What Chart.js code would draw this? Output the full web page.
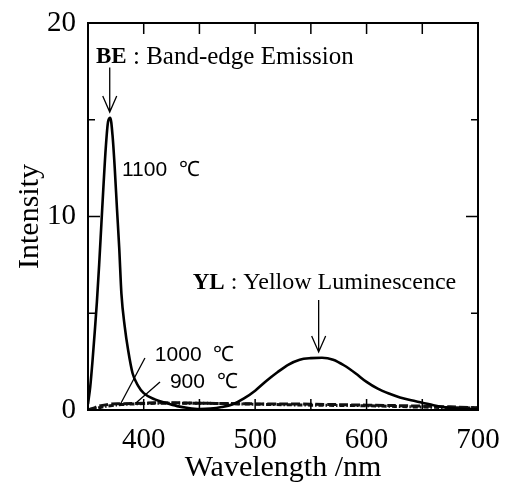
<!DOCTYPE html>
<html>
<head>
<meta charset="utf-8">
<script src="https://cdn.jsdelivr.net/npm/chart.js@4.4.0/dist/chart.umd.min.js"></script>
<style>
	html, body { margin: 0; padding: 0; background: #fff; }
</style>
</head>
<body>
<canvas id="chart" width="506" height="486"></canvas>
<script>
// wavelength (nm) / intensity
var wl1100 = [350, 352, 354, 356, 358, 360, 362, 364, 366, 368, 370, 372, 374, 376, 378, 380, 383, 386, 390, 395,
	400, 410, 420, 430, 440, 450, 460, 470, 480, 490, 500, 510, 520, 530, 540, 550, 560, 570, 580, 590,
	600, 610, 620, 630, 640, 650, 660, 670, 680, 690, 700];
var int1100 = [0.3, 1.2, 2.5, 4.0, 5.6, 7.5, 9.6, 11.7, 13.6, 14.9, 15.1, 14.2, 12.5, 10.4, 8.4, 6.0, 4.3, 3.1, 1.9, 1.25,
	0.87, 0.55, 0.36, 0.2, 0.1, 0.05, 0.07, 0.15, 0.3, 0.6, 1.0, 1.5, 1.95, 2.35, 2.6, 2.68, 2.7, 2.6, 2.3, 1.9,
	1.45, 1.1, 0.85, 0.65, 0.5, 0.38, 0.25, 0.14, 0.08, 0.05, 0.04];

var wlLow = [350, 355, 360, 370, 380, 400, 420, 450, 500, 550, 600, 650, 700];
var int1000 = [0.0, 0.1, 0.2, 0.3, 0.32, 0.35, 0.38, 0.35, 0.32, 0.3, 0.25, 0.2, 0.12];
var int900 = [0.0, 0.05, 0.12, 0.22, 0.28, 0.33, 0.35, 0.35, 0.3, 0.25, 0.22, 0.15, 0.1];

var xMin = 350, xMax = 700;
var yMin = 0, yMax = 20;
var xTicks = [400, 500, 600, 700];
var yTicks = [0, 10, 20];

function pairs(xs, ys) {
	var out = [];
	for (var i = 0; i < xs.length; i++) out.push({ x: xs[i], y: ys[i] });
	return out;
}

// text labels / arrows in data units
var notes = [
	{ type: 'text', x: 357.2, y: 18.24, parts: [['BE', 'bold 23px "Liberation Serif"'], [' : Band-edge Emission', '25px "Liberation Serif"']] },
	{ type: 'text', x: 444, y: 6.56, parts: [['YL', 'bold 23px "Liberation Serif"'], [' : Yellow Luminescence', '24px "Liberation Serif"']] },
	{ type: 'text', x: 380.5, y: 12.4, parts: [['1100  \u2103', '21px "Liberation Sans"']] },
	{ type: 'text', x: 410, y: 2.84, parts: [['1000  \u2103', '21px "Liberation Sans"']] },
	{ type: 'text', x: 423.5, y: 1.45, parts: [['900  \u2103', '21px "Liberation Sans"']] },
	{ type: 'arrow', x: 369.5, y1: 17.7, y2: 15.4 },
	{ type: 'arrow', x: 557, y1: 5.68, y2: 3.0 },
	{ type: 'line', x1: 401.1, y1: 2.69, x2: 378.7, y2: 0.26 },
	{ type: 'line', x1: 414.6, y1: 1.45, x2: 393, y2: 0.36 }
];

function noPad(s) {
	s.paddingLeft = 0; s.paddingRight = 0; s.paddingTop = 0; s.paddingBottom = 0;
}

var frame = {
	id: 'frame',
	afterDraw: function(chart) {
		var ctx = chart.ctx;
		var a = chart.chartArea;
		var sx = chart.scales.x, sy = chart.scales.y;
		ctx.save();
		ctx.strokeStyle = '#000';
		ctx.fillStyle = '#000';
		ctx.lineWidth = 2;
		ctx.strokeRect(a.left, a.top, a.right - a.left, a.bottom - a.top);

		// inward ticks on all four sides
		ctx.lineWidth = 1.5;
		ctx.beginPath();
		for (var v = xMin + 50; v < xMax; v += 50) {
			var px = sx.getPixelForValue(v);
			ctx.moveTo(px, a.bottom); ctx.lineTo(px, a.bottom - 11);
			ctx.moveTo(px, a.top); ctx.lineTo(px, a.top + 11);
		}
		for (var w = yMin + 5; w < yMax; w += 5) {
			var py = sy.getPixelForValue(w);
			var len = (w % 10 === 0) ? 12 : 7;
			ctx.moveTo(a.left, py); ctx.lineTo(a.left + len, py);
			ctx.moveTo(a.right, py); ctx.lineTo(a.right - len, py);
		}
		ctx.stroke();

		ctx.lineWidth = 1.3;
		ctx.textBaseline = 'middle';
		notes.forEach(function(n) {
			if (n.type === 'text') {
				var tx = sx.getPixelForValue(n.x);
				var ty = sy.getPixelForValue(n.y);
				n.parts.forEach(function(p) {
					ctx.font = p[1];
					ctx.fillText(p[0], tx, ty);
					tx += ctx.measureText(p[0]).width;
				});
			} else if (n.type === 'arrow') {
				var ax = sx.getPixelForValue(n.x);
				var ay1 = sy.getPixelForValue(n.y1);
				var ay2 = sy.getPixelForValue(n.y2);
				ctx.beginPath();
				ctx.moveTo(ax, ay1); ctx.lineTo(ax, ay2);
				ctx.moveTo(ax - 7, ay2 - 16); ctx.lineTo(ax, ay2); ctx.lineTo(ax + 7, ay2 - 16);
				ctx.stroke();
			} else {
				ctx.beginPath();
				ctx.moveTo(sx.getPixelForValue(n.x1), sy.getPixelForValue(n.y1));
				ctx.lineTo(sx.getPixelForValue(n.x2), sy.getPixelForValue(n.y2));
				ctx.stroke();
			}
		});
		ctx.restore();
	}
};

var ctx = document.getElementById('chart');
var myChart = new Chart(ctx, {
	type: 'line',
	data: {
		datasets: [
			{ label: '1100 \u2103', data: pairs(wl1100, int1100), borderColor: '#000', borderWidth: 2.6, pointRadius: 0, tension: 0.4, cubicInterpolationMode: 'monotone' },
			{ label: '1000 \u2103', data: pairs(wlLow, int1000), borderColor: '#111', borderWidth: 3, borderDash: [9, 3], pointRadius: 0, tension: 0.4 },
			{ label: '900 \u2103', data: pairs(wlLow, int900), borderColor: '#111', borderWidth: 3, borderDash: [5, 2, 1.5, 2], pointRadius: 0, tension: 0.4 }
		]
	},
	options: {
		responsive: false,
		animation: false,
		layout: { padding: { left: 0, right: 28, top: 23, bottom: 0 } },
		plugins: { legend: { display: false }, tooltip: { enabled: false } },
		scales: {
			x: {
				type: 'linear', min: xMin, max: xMax,
				afterBuildTicks: function(s) { s.ticks = xTicks.map(function(v) { return { value: v }; }); },
				afterFit: function(s) { s.height = 76; noPad(s); },
				grid: { display: false, drawTicks: false },
				border: { display: false },
				ticks: { color: '#000', font: { family: 'Liberation Serif', size: 29 }, padding: 13, maxRotation: 0 },
				title: { display: true, text: 'Wavelength /nm', color: '#000', font: { family: 'Liberation Serif', size: 30 }, padding: 0 }
			},
			y: {
				min: yMin, max: yMax,
				afterBuildTicks: function(s) { s.ticks = yTicks.map(function(v) { return { value: v }; }); },
				afterFit: function(s) { s.width = 88; noPad(s); },
				grid: { display: false, drawTicks: false },
				border: { display: false },
				ticks: { color: '#000', font: { family: 'Liberation Serif', size: 29 }, padding: 12 },
				title: { display: true, text: 'Intensity', color: '#000', font: { family: 'Liberation Serif', size: 30 }, padding: { top: 12, bottom: 0 } }
			}
		}
	},
	plugins: [frame]
});
</script>
</body>
</html>
